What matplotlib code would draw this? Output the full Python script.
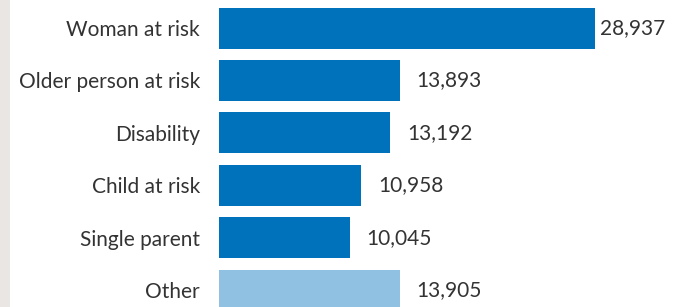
import matplotlib.pyplot as plt
from matplotlib.patches import Rectangle

# data
categories = ['Woman at risk', 'Older person at risk', 'Disability',
              'Child at risk', 'Single parent', 'Other']
values = [28937, 13893, 13192, 10958, 10045, 13905]
colors = ['#0072BC', '#0072BC', '#0072BC', '#0072BC', '#0072BC', '#91C1E2']

plt.rcParams['font.family'] = ['Lato', 'DejaVu Sans']

W, H = 684, 307
fig = plt.figure(figsize=(W / 100, H / 100), dpi=100)
fig.patch.set_facecolor('white')

# grey strip on the left edge
fig.patches.append(Rectangle((0, 0), 10 / W, 1, transform=fig.transFigure,
                             facecolor='#E9E6E4', edgecolor='none'))

# axes: bars start at x=219 px, fill to right edge
x0 = 219
ax = fig.add_axes([x0 / W, 0, (W - x0) / W, 1])
px_per_unit = 376 / max(values)
ax.set_xlim(0, (W - x0) / px_per_unit)

pitch = 52.4
first = 28
ax.set_ylim((H - first) / pitch, -first / pitch)

y = list(range(len(categories)))
ax.barh(y, values, height=41 / pitch, color=colors)

ax.set_yticks(y)
ax.set_yticklabels(categories, fontsize=15, color='#333333')
ax.tick_params(axis='y', length=0, pad=13.7)
ax.set_xticks([])
for s in ax.spines.values():
    s.set_visible(False)

vmax = max(values)
for yi, v in zip(y, values):
    off = 3.6 if v == vmax else 12.2
    ax.annotate(f'{v:,}', xy=(v, yi), xytext=(off, 0), textcoords='offset points',
                ha='left', va='center', fontsize=15, color='#333333')

fig.savefig('out.png', dpi=100)
